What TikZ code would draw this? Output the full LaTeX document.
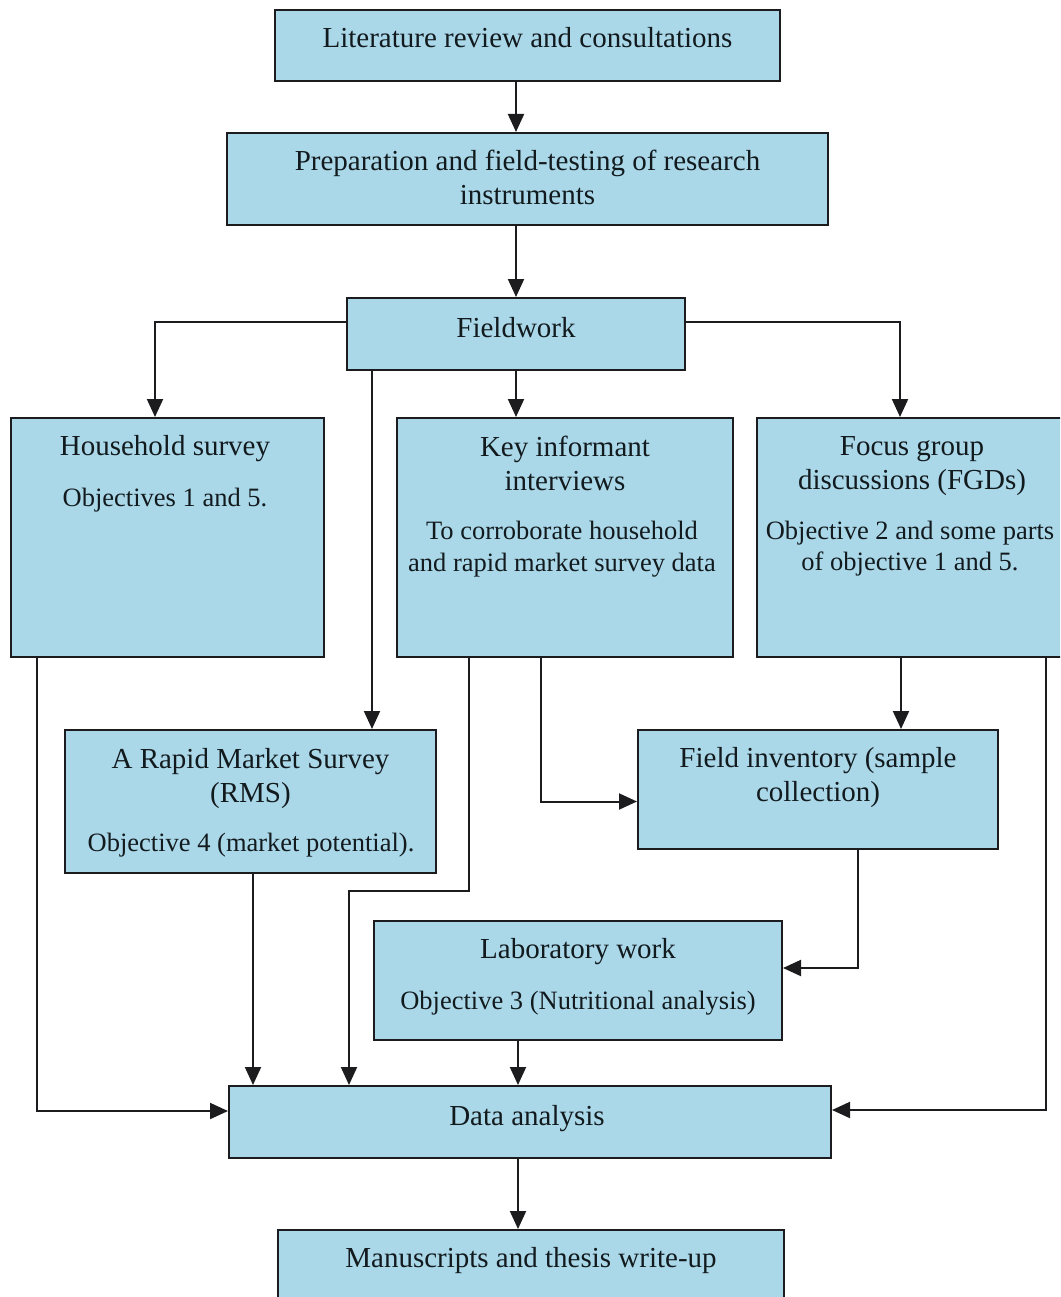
\documentclass[tikz,border=0pt]{standalone}
\usepackage{fontspec}
\setmainfont{Liberation Serif}
\usetikzlibrary{arrows.meta,calc}
\definecolor{boxblue}{RGB}{170,216,233}
\definecolor{edge}{RGB}{28,28,30}
\definecolor{ink}{RGB}{18,26,30}

\begin{document}
\begin{tikzpicture}[x=1pt,y=-1pt,
  box/.style={draw=edge, line width=2pt, fill=boxblue, rectangle, inner sep=0pt},
  ttl/.style={anchor=base, inner sep=0pt, text=ink, font=\fontsize{29}{35}\selectfont},
  bdy/.style={anchor=base, inner sep=0pt, text=ink, font=\fontsize{26.5}{32}\selectfont},
  arr/.style={draw=edge, line width=2pt, -{Triangle[length=18pt,width=16pt]}},
]
\path[use as bounding box, clip] (0,0) rectangle (1060,1297);

% boxes
\node[box, minimum width=505pt, minimum height=71pt]  (lit)  at (527.5,45.5)  {};
\node[box, minimum width=601pt, minimum height=92pt]  (prep) at (527.5,179)   {};
\node[box, minimum width=338pt, minimum height=72pt]  (fld)  at (516,334)     {};
\node[box, minimum width=313pt, minimum height=239pt] (hh)   at (167.5,537.5) {};
\node[box, minimum width=336pt, minimum height=239pt] (ki)   at (565,537.5)   {};
\node[box, minimum width=310pt, minimum height=239pt] (fg)   at (912,537.5)   {};
\node[box, minimum width=371pt, minimum height=143pt] (rms)  at (250.5,801.5) {};
\node[box, minimum width=360pt, minimum height=119pt] (fi)   at (818,789.5)   {};
\node[box, minimum width=408pt, minimum height=119pt] (lab)  at (578,980.5)   {};
\node[box, minimum width=602pt, minimum height=72pt]  (da)   at (530,1122)    {};
\node[box, minimum width=506pt, minimum height=80pt]  (ms)   at (531,1270)    {};

% connectors
\draw[arr] (lit.south -| fld.north) -- (prep.north -| fld.north);
\draw[arr] (prep.south -| fld.north) -- (fld.north);
\draw[arr] ([yshift=12pt]fld.west) -| ([xshift=-12.5pt]hh.north);
\draw[arr] ([yshift=12pt]fld.east) -| ([xshift=-12pt]fg.north);
\draw[arr] (fld.south) -- (fld.south |- ki.north);
\draw[arr] ([xshift=-144pt]fld.south) -- ([xshift=-144pt]fld.south |- rms.north);
\draw[arr] ([xshift=-130.5pt]hh.south) |- ([yshift=11pt]da.west);
\draw[arr] ([xshift=2.5pt]rms.south) -- ([xshift=2.5pt]rms.south |- da.north);
\draw[arr] ([xshift=-96pt]ki.south) -- ++(0,233) -| ([xshift=-181pt]da.north);
\draw[arr] ([xshift=-24pt]ki.south) |- ([yshift=-12pt]fi.west);
\draw[arr] ([xshift=-11pt]fg.south) -- ([xshift=-11pt]fg.south |- fi.north);
\draw[arr] ([xshift=134pt]fg.south) |- ([yshift=12pt]da.east);
\draw[arr] ([xshift=40pt]fi.south) |- ([yshift=12.5pt]lab.east);
\draw[arr] ([xshift=-60pt]lab.south) -- ([xshift=-60pt]lab.south |- da.north);
\draw[arr] ([xshift=-12pt]da.south) -- ([xshift=-12pt]da.south |- ms.north);

% texts
\node[ttl] (litA)  at (527.5,48)  {Literature review and consultations};
\node[ttl] (prepA) at (527.5,171) {Preparation and field-testing of research};
\node[ttl] (prepB) at (527.5,205) {instruments};
\node[ttl] (fldA)  at (516,337)   {Fieldwork};

\node[ttl] (hhA) at (165,455) {Household survey};
\node[bdy] (hhB) at (165,506) {Objectives 1 and 5.};

\node[ttl] (kiA) at (565,456) {Key informant};
\node[ttl] (kiB) at (565,490) {interviews};
\node[bdy] (kiC) at (562,539) {To corroborate household};
\node[bdy] (kiD) at (562,571) {and rapid market survey data};

\node[ttl] (fgA) at (912,455) {Focus group};
\node[ttl] (fgB) at (912,489) {discussions (FGDs)};
\node[bdy] (fgC) at (910,539) {Objective 2 and some parts};
\node[bdy] (fgD) at (910,570) {of objective 1 and 5.};

\node[ttl] (rmsA) at (250.5,768) {A Rapid Market Survey};
\node[ttl] (rmsB) at (250.5,802) {(RMS)};
\node[bdy] (rmsC) at (251,851)   {Objective 4 (market potential).};

\node[ttl] (fiA) at (818,767) {Field inventory (sample};
\node[ttl] (fiB) at (818,801) {collection)};

\node[ttl] (labA) at (578,958)  {Laboratory work};
\node[bdy] (labB) at (578,1009) {Objective 3 (Nutritional analysis)};

\node[ttl] (daA) at (527,1125) {Data analysis};
\node[ttl] (msA) at (531,1267) {Manuscripts and thesis write-up};
\end{tikzpicture}
\end{document}
